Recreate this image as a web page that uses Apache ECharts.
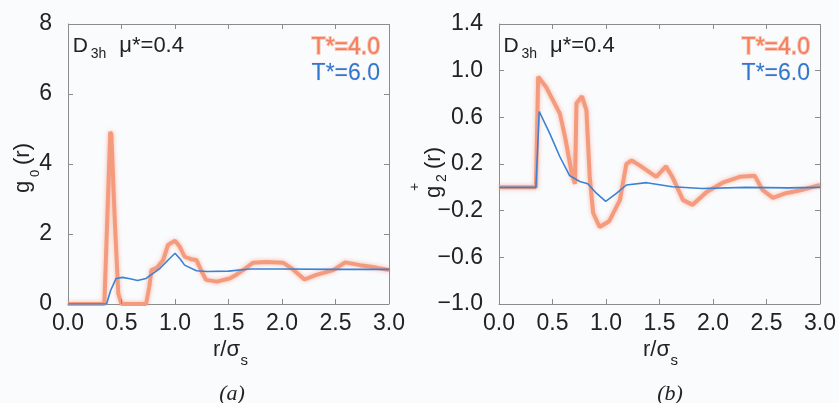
<!DOCTYPE html>
<html>
<head>
<meta charset="utf-8">
<script src="https://cdn.jsdelivr.net/npm/echarts@6/dist/echarts.min.js"></script>
<style>
html,body{margin:0;padding:0;background:#fafbfd;}
#chart{width:839px;height:403px;}
</style>
</head>
<body>
<div id="chart"></div>
<script>
// ---- data ----
// panel (a): g0(r)
var rA_T4 = [0, 0.34, 0.395, 0.405, 0.44, 0.47, 0.50, 0.73, 0.76, 0.78, 0.83, 0.89, 0.935, 1.0, 1.044, 1.09, 1.15, 1.2, 1.25, 1.29, 1.39, 1.51, 1.57, 1.65, 1.73, 1.85, 2.01, 2.09, 2.21, 2.32, 2.48, 2.59, 2.73, 2.88, 3.0];
var gA_T4 = [0, 0, 4.92, 4.85, 2.2, 0.3, 0, 0, 0.5, 0.97, 1.03, 1.26, 1.69, 1.81, 1.64, 1.35, 1.28, 1.26, 0.92, 0.69, 0.64, 0.73, 0.83, 1.0, 1.18, 1.2, 1.18, 1.02, 0.70, 0.83, 0.97, 1.19, 1.11, 1.04, 0.97];
var rA_T6 = [0, 0.36, 0.40, 0.45, 0.51, 0.58, 0.65, 0.73, 0.86, 0.95, 1.0, 1.05, 1.09, 1.2, 1.3, 1.5, 1.7, 2.0, 2.5, 3.0];
var gA_T6 = [0, 0, 0.4, 0.73, 0.76, 0.72, 0.67, 0.73, 1.02, 1.3, 1.45, 1.28, 1.11, 0.95, 0.93, 0.94, 1.0, 1.0, 0.99, 0.99];
var rA_zero = [0.546, 0.74];
var gA_zero = [0, 0];
// panel (b): g2+(r)
var rB_T4 = [0, 0.345, 0.366, 0.44, 0.57, 0.62, 0.68, 0.71, 0.724, 0.776, 0.817, 0.848, 0.88, 0.94, 1.03, 1.13, 1.19, 1.24, 1.31, 1.47, 1.56, 1.62, 1.72, 1.81, 1.94, 2.09, 2.25, 2.39, 2.46, 2.56, 2.68, 2.84, 3.0];
var gB_T4 = [0, 0, 0.948, 0.86, 0.63, 0.42, 0.12, 0.03, 0.72, 0.78, 0.66, 0.09, -0.22, -0.34, -0.29, -0.11, 0.2, 0.23, 0.19, 0.09, 0.18, 0.09, -0.11, -0.15, -0.04, 0.04, 0.09, 0.1, -0.02, -0.09, -0.05, -0.02, 0.02];
var rB_T6 = [0, 0.345, 0.376, 0.475, 0.57, 0.66, 0.755, 0.83, 0.91, 0.997, 1.1, 1.19, 1.38, 1.62, 1.9, 2.3, 2.7, 3.0];
var gB_T6 = [0, 0, 0.65, 0.46, 0.26, 0.1, 0.05, 0.03, -0.05, -0.12, -0.05, 0.02, 0.04, 0.005, -0.01, 0, -0.005, 0];
// tick labels (axis ranges and steps)
var xTicks = [0, 0.5, 1.0, 1.5, 2.0, 2.5, 3.0];
var yTicksA = [0, 2, 4, 6, 8];
var yTicksB = [-1.0, -0.6, -0.2, 0.2, 0.6, 1.0, 1.4];
var seriesNames = ['T*=4.0', 'T*=6.0'];

function pairs(xs, ys){ return xs.map(function(x,i){ return [x, ys[i]]; }); }

var FONT = 'Liberation Sans, Arial, sans-serif';
var ORANGE = '#f59b7d';
var BLUE = '#3b81d4';
var FRAME = '#8c8c8c';
var GRIDS = [
  {left:68, top:24, width:321, height:280},
  {left:499, top:24, width:322, height:280}
];
var TICK_PX = 5;

function fmtX(v){ return v.toFixed(1); }
function fmtY(v){
  var s = Math.abs(v).toFixed(1);
  return (v < -1e-9 ? '\u2212' : '') + s;
}
function fmtInt(v){ return String(Math.round(v)); }

function makeAxis(kind, gi, ticks, pos, fmt){
  var margin = kind === 'x' ? 8 : 16;
  var min = ticks[0], max = ticks[ticks.length - 1];
  return {type:'value', gridIndex:gi, min:min, max:max, interval:ticks[1] - ticks[0], position:pos,
    axisLine:{show:true, onZero:false, lineStyle:{color:FRAME, width:1}},
    axisTick:{show:true, inside:true, length:TICK_PX, lineStyle:{color:FRAME}},
    splitLine:{show:false},
    axisLabel:{show:true, fontSize:23, fontFamily:FONT, color:'#222', margin:margin, formatter:fmt}};
}
var xAxes = [
  makeAxis('x', 0, xTicks, 'bottom', fmtX),
  makeAxis('x', 1, xTicks, 'bottom', fmtX)
];
var yAxes = [
  makeAxis('y', 0, yTicksA, 'left', fmtInt),
  makeAxis('y', 1, yTicksB, 'left', fmtY)
];

// frame (top / right edges) and inward ticks on all sides, placed in data coordinates
function frameMarkLine(gi, xt, yt){
  var x0 = xt[0], x1 = xt[xt.length - 1], y0 = yt[0], y1 = yt[yt.length - 1];
  var dx = (x1 - x0) / GRIDS[gi].width * TICK_PX;
  var dy = (y1 - y0) / GRIDS[gi].height * TICK_PX;
  var d = [];
  d.push([{coord:[x0, y1]}, {coord:[x1, y1]}]);
  d.push([{coord:[x1, y0]}, {coord:[x1, y1]}]);
  xt.slice(1, -1).forEach(function(x){
    d.push([{coord:[x, y0]}, {coord:[x, y0 + dy]}]);
    d.push([{coord:[x, y1]}, {coord:[x, y1 - dy]}]);
  });
  yt.slice(1, -1).forEach(function(y){
    d.push([{coord:[x0, y]}, {coord:[x0 + dx, y]}]);
    d.push([{coord:[x1, y]}, {coord:[x1 - dx, y]}]);
  });
  return {silent:true, symbol:['none', 'none'], animation:false, precision:4,
    label:{show:false}, emphasis:{disabled:true},
    lineStyle:{color:FRAME, width:1, type:'solid'}, data:d};
}

function orangeSeries(xi, yi, data){
  return {type:'line', name:seriesNames[0], xAxisIndex:xi, yAxisIndex:yi, data:data,
    showSymbol:false, symbol:'none', smooth:false, z:3,
    lineStyle:{color:ORANGE, width:4, shadowColor:'rgba(245,140,110,0.6)', shadowBlur:4}};
}
function blueSeries(xi, yi, data, ml){
  return {type:'line', name:seriesNames[1], xAxisIndex:xi, yAxisIndex:yi, data:data,
    showSymbol:false, symbol:'none', smooth:false, z:4,
    lineStyle:{color:BLUE, width:1.6}, markLine:ml};
}

function txt(x, y, text, size, opts){
  opts = opts || {};
  return {type:'text', x:x, y:y, rotation:opts.rot || 0, z:100,
    style:{text:text, fontSize:size, fontFamily:opts.family || FONT,
      fontStyle:opts.italic ? 'italic' : 'normal', fontWeight:opts.bold ? 'bold' : 'normal',
      fill:opts.color || '#222', align:opts.align || 'left', verticalAlign:'middle',
      stroke:opts.stroke || null, lineWidth:opts.strokeW || 0}};
}

var graphics = [];
function panelTexts(ox, rightEdge, axisX){
  graphics.push(txt(ox + 4.5, 46, 'D', 21));
  graphics.push(txt(ox + 22.5, 54, '3h', 14));
  graphics.push(txt(ox + 51, 46, '\u03bc*=0.4', 22));
  graphics.push(txt(rightEdge, 47.5, seriesNames[0], 23, {align:'right', color:'#f47e58', stroke:'rgba(245,150,120,0.5)', strokeW:1.8}));
  graphics.push(txt(rightEdge, 73.5, seriesNames[1], 23, {align:'right', color:'#2f78cf', stroke:'rgba(230,170,190,0.25)', strokeW:1}));
  graphics.push(txt(axisX, 350, 'r/\u03c3', 22, {align:'right'}));
  graphics.push(txt(axisX + 0.5, 361, 's', 15));
}
panelTexts(68.3, 380, 240);
panelTexts(499, 810, 670);
var R = Math.PI / 2;
graphics.push(txt(23, 187, 'g', 22, {rot:R, align:'center'}));
graphics.push(txt(35, 173.5, '0', 13, {rot:R, align:'center'}));
graphics.push(txt(23, 154, '(r)', 22, {rot:R, align:'center'}));
graphics.push(txt(434, 192, 'g', 22, {rot:R, align:'center'}));
graphics.push(txt(442, 178, '2', 14, {rot:R, align:'center'}));
graphics.push(txt(415, 187, '+', 14, {rot:R, align:'center'}));
graphics.push(txt(434, 158, '(r)', 22, {rot:R, align:'center'}));
graphics.push(txt(232, 394, '(a)', 22, {align:'center', italic:true, family:'Liberation Serif, serif'}));
graphics.push(txt(670, 394, '(b)', 22, {align:'center', italic:true, family:'Liberation Serif, serif'}));

var option = {
  backgroundColor:'#fafbfd',
  animation:false,
  grid:[
    {left:GRIDS[0].left, top:GRIDS[0].top, width:GRIDS[0].width, height:GRIDS[0].height, show:false},
    {left:GRIDS[1].left, top:GRIDS[1].top, width:GRIDS[1].width, height:GRIDS[1].height, show:false}
  ],
  xAxis: xAxes,
  yAxis: yAxes,
  series:[
    {type:'line', xAxisIndex:0, yAxisIndex:0, data:pairs(rA_zero, gA_zero), symbol:'none',
     lineStyle:{color:'#333', width:2}, z:2},
    orangeSeries(0, 0, pairs(rA_T4, gA_T4)),
    blueSeries(0, 0, pairs(rA_T6, gA_T6), frameMarkLine(0, xTicks, yTicksA)),
    orangeSeries(1, 1, pairs(rB_T4, gB_T4)),
    blueSeries(1, 1, pairs(rB_T6, gB_T6), frameMarkLine(1, xTicks, yTicksB))
  ],
  graphic: graphics
};
var chart = echarts.init(document.getElementById('chart'), null, {renderer:'canvas'});
chart.setOption(option);
</script>
</body>
</html>
